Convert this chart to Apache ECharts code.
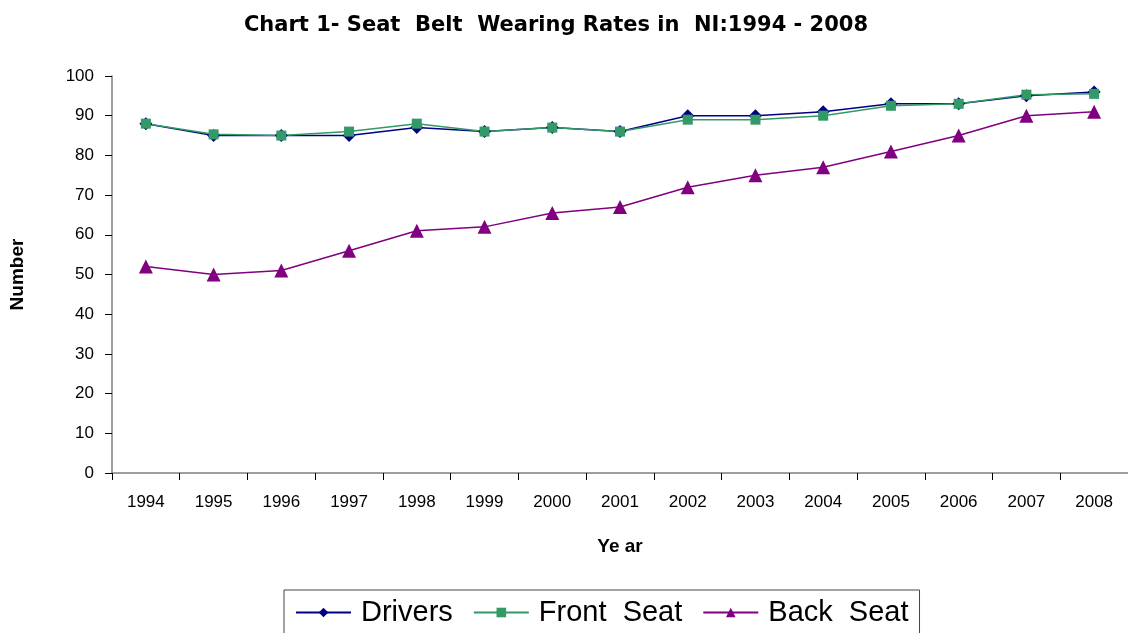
<!DOCTYPE html>
<html>
<head>
<meta charset="utf-8">
<script src="https://cdn.jsdelivr.net/npm/echarts@6/dist/echarts.min.js"></script>
<style>
html,body{margin:0;padding:0;background:#fff;}
#chart{width:1128px;height:633px;}
</style>
</head>
<body>
<div id="chart"></div>
<script>
const years = ['1994','1995','1996','1997','1998','1999','2000','2001','2002','2003','2004','2005','2006','2007','2008'];
const drivers   = [88, 85, 85, 85, 87, 86, 87, 86, 90, 90, 91, 93, 93, 95, 96];
const frontSeat = [88, 85.3, 85, 86, 88, 86, 87, 86, 89, 89, 90, 92.5, 93, 95.3, 95.5];
const backSeat  = [52, 50, 51, 56, 61, 62, 65.5, 67, 72, 75, 77, 81, 85, 90, 91];
const yTicks = [0, 100, 10];

const font = '"Liberation Sans", Arial, sans-serif';
const chart = echarts.init(document.getElementById('chart'), null, {renderer: 'canvas'});
chart.setOption({
  animation: false,
  backgroundColor: '#ffffff',
  title: {
    text: 'Chart 1- Seat  Belt  Wearing Rates in  NI:1994 - 2008',
    left: 551, top: 10, textAlign: 'center',
    textStyle: {fontFamily: '"DejaVu Sans", sans-serif', fontSize: 21, fontWeight: 'bold', color: '#000'}
  },
  grid: {left: 112, top: 76, width: 1016, height: 397, containLabel: false},
  legend: {
    left: 284, top: 590,
    padding: [8, 11, 30, 11],
    borderColor: '#444', borderWidth: 1,
    itemWidth: 55, itemHeight: 12, itemGap: 20,
    textStyle: {fontFamily: font, fontSize: 29, color: '#000', padding: [0, 0, 0, 5]},
    data: ['Drivers', 'Front  Seat', 'Back  Seat']
  },
  xAxis: {
    type: 'category', data: years, boundaryGap: true,
    name: 'Ye ar', nameLocation: 'middle', nameGap: 64,
    nameTextStyle: {fontFamily: font, fontSize: 19, fontWeight: 'bold', color: '#000'},
    axisLine: {lineStyle: {color: '#808080', width: 1.5}},
    axisTick: {show: true, length: 7, lineStyle: {color: '#000'}},
    axisLabel: {fontFamily: font, fontSize: 17, color: '#000', margin: 21}
  },
  yAxis: {
    type: 'value', min: yTicks[0], max: yTicks[1], interval: yTicks[2],
    name: 'Number', nameLocation: 'middle', nameGap: 85,
    nameTextStyle: {fontFamily: font, fontSize: 19, fontWeight: 'bold', color: '#000'},
    axisLine: {show: true, lineStyle: {color: '#808080', width: 1.5}},
    axisTick: {show: true, length: 7, lineStyle: {color: '#000'}},
    splitLine: {show: false},
    axisLabel: {fontFamily: font, fontSize: 17, color: '#000', margin: 18}
  },
  series: [
    {name: 'Drivers', type: 'line', data: drivers, symbol: 'diamond', symbolSize: 13,
     itemStyle: {color: '#000080'}, lineStyle: {color: '#000080', width: 1.5}},
    {name: 'Front  Seat', type: 'line', data: frontSeat, symbol: 'rect', symbolSize: 10,
     itemStyle: {color: '#339966'}, lineStyle: {color: '#339966', width: 1.5}},
    {name: 'Back  Seat', type: 'line', data: backSeat, symbol: 'triangle', symbolSize: 14,
     itemStyle: {color: '#800080'}, lineStyle: {color: '#800080', width: 1.5}}
  ]
});
</script>
</body>
</html>
